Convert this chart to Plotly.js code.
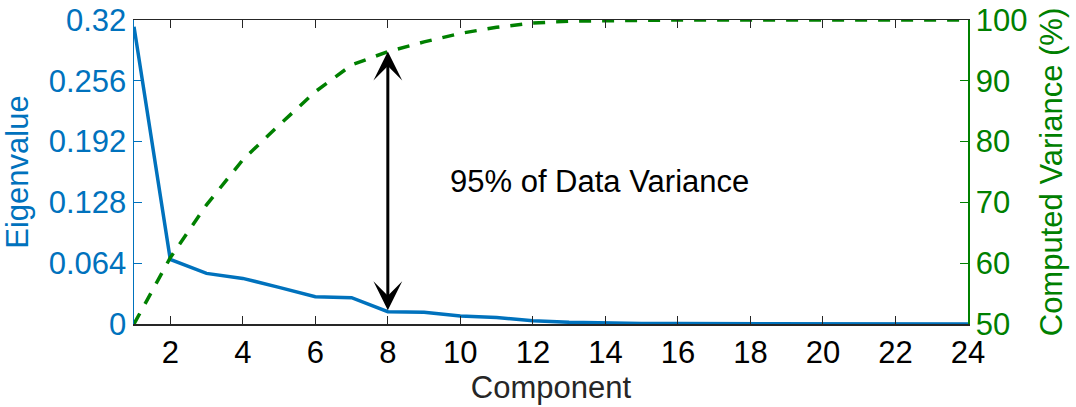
<!DOCTYPE html>
<html>
<head>
<meta charset="utf-8">
<script src="https://cdn.plot.ly/plotly-3.0.1.min.js"></script>
<style>html,body{margin:0;padding:0;background:#fff;}#chart{width:1076px;height:407px;}</style>
</head>
<body>
<div id="chart"></div>
<script>
const components = [1,2,3,4,5,6,7,8,9,10,11,12,13,14,15,16,17,18,19,20,21,22,23,24];
const eigenvalues = [0.313,0.068,0.0533,0.048,0.0386,0.0288,0.0277,0.013,0.0123,0.0084,0.0068,0.0035,0.0018,0.001,0.0006,0.0004,0.0003,0.0002,0.0002,0.0001,0.0001,0.0001,0.0001,0.0];
const cumulativeVariance = [50,60.9,69.6,77.0,82.7,88.2,92.6,94.8,96.4,97.8,98.8,99.5,99.8,99.9,100,100,100,100,100,100,100,100,100,100];
const xTicks = [2,4,6,8,10,12,14,16,18,20,22,24];
const eigTicks = [0,0.064,0.128,0.192,0.256,0.32];
const eigTickText = ["0","0.064","0.128","0.192","0.256","0.32"];
const varTicks = [50,60,70,80,90,100];
const annotationText = "95% of Data Variance";
const markComponent = 8;

const BLUE = '#0072BD', GREEN = '#008000';
const FONT = 'Liberation Sans, Arial, Helvetica, sans-serif';
const FS = 31;
const eigRange = [0, 0.32], varRange = [50, 100];
const idx = components.indexOf(markComponent);
// convert eigenvalue to the y2 scale for the arrow tail
const tailY2 = varRange[0] + (eigenvalues[idx]-eigRange[0])/(eigRange[1]-eigRange[0])*(varRange[1]-varRange[0]);

const traces = [
  {x: components, y: eigenvalues, type:'scatter', mode:'lines', yaxis:'y',
   line:{color:BLUE, width:3.5}, hoverinfo:'none'},
  {x: components, y: cumulativeVariance, type:'scatter', mode:'lines', yaxis:'y2',
   line:{color:GREEN, width:3.5, dash:'12px,11px'}, hoverinfo:'none'}
];

const layout = {
  width:1076, height:407,
  margin:{l:134, r:108, t:20, b:83},
  paper_bgcolor:'#fff', plot_bgcolor:'#fff',
  showlegend:false,
  font:{family:FONT, size:FS, color:'#000'},
  xaxis:{range:[1,24], tickvals:xTicks, ticks:'inside', ticklen:8, tickwidth:1,
    tickcolor:'#262626', showline:true, linecolor:'#262626', linewidth:1.5, mirror:'ticks',
    showgrid:false, zeroline:false, tickfont:{size:FS, color:'#000'},
    title:{text:'Component', font:{size:FS, color:'#262626'}, standoff:6}},
  yaxis:{range:eigRange, tickvals:eigTicks, ticktext:eigTickText, ticks:'inside', ticklen:8,
    tickcolor:BLUE, showline:true, linecolor:BLUE, linewidth:1.5, showgrid:false, zeroline:false,
    tickfont:{size:FS, color:BLUE},
    title:{text:'Eigenvalue', font:{size:FS, color:BLUE}, standoff:12}},
  yaxis2:{range:varRange, tickvals:varTicks, overlaying:'y', side:'right', ticks:'inside', ticklen:8,
    tickcolor:GREEN, showline:true, linecolor:GREEN, linewidth:1.5, showgrid:false, zeroline:false,
    tickfont:{size:FS, color:GREEN},
    title:{text:'Computed Variance (%)', font:{size:FS, color:GREEN}, standoff:14}},
  annotations:[
    {xref:'x', yref:'y2', x:markComponent, y:cumulativeVariance[idx],
     axref:'x', ayref:'y2', ax:markComponent, ay:tailY2,
     showarrow:true, arrowside:'end+start', arrowhead:3, startarrowhead:3,
     arrowsize:1.6, startarrowsize:1.6, arrowwidth:3, arrowcolor:'#000', text:'',
     standoff:0, startstandoff:0},
    {xref:'x', yref:'y2', x:13.85, y:73.4, text:annotationText, showarrow:false,
     font:{family:FONT, size:FS, color:'#000'}, xanchor:'center', yanchor:'middle'}
  ]
};

Plotly.newPlot('chart', traces, layout, {staticPlot:true, displayModeBar:false});
</script>
</body>
</html>
